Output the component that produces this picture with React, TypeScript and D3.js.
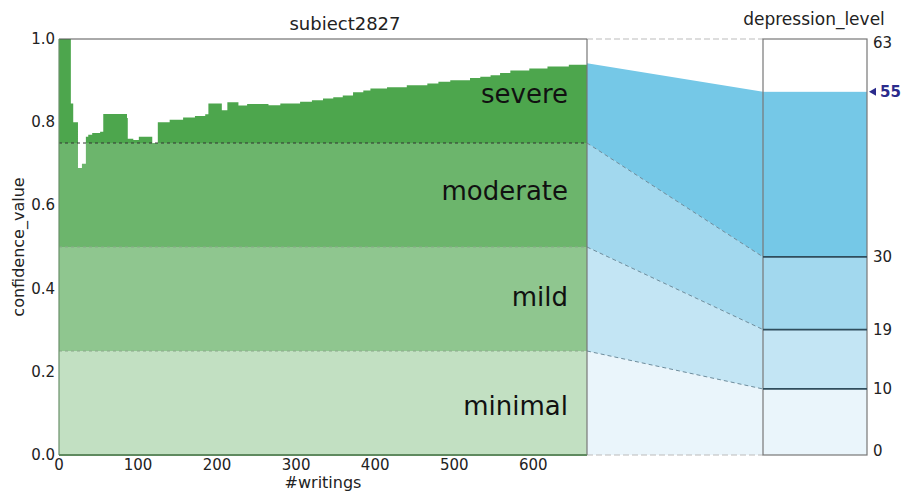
import React, { useEffect, useRef } from "react";
import * as d3 from "d3";

// confidence over the writings (step values)
const writings = [0, 15, 18, 24, 29, 34, 37, 42, 52, 56, 86, 87, 94, 101, 118, 125, 140, 157, 172, 185, 189, 206, 213, 227, 238, 265, 280, 305, 320, 334, 347, 359, 372, 385, 394, 415, 440, 466, 480, 495, 520, 533, 546, 558, 571, 595, 618, 645, 668];
const confidence = [1.0, 0.845, 0.8, 0.69, 0.7, 0.765, 0.77, 0.774, 0.777, 0.82, 0.81, 0.76, 0.757, 0.765, 0.75, 0.8, 0.806, 0.811, 0.815, 0.819, 0.845, 0.829, 0.848, 0.84, 0.844, 0.841, 0.845, 0.849, 0.853, 0.857, 0.86, 0.864, 0.872, 0.876, 0.881, 0.884, 0.889, 0.893, 0.897, 0.901, 0.906, 0.909, 0.913, 0.918, 0.924, 0.929, 0.934, 0.938, 0.942];

const levels = ["minimal", "mild", "moderate", "severe"];
const confBounds = [0, 0.25, 0.5, 0.75, 1.0];
const depressionBounds = [0, 10, 19, 30, 63];
const depressionScore = 55;

const yTicks = [0, 0.2, 0.4, 0.6, 0.8, 1.0];
const xTicks = [0, 100, 200, 300, 400, 500, 600];
const rightTicks = [0, 10, 19, 30, 63];

const greens = ["#c2e0c2", "#8fc68f", "#6cb56c", "#4da64d"];
const blues = ["#eaf5fb", "#c3e5f4", "#a2d8ee", "#75c8e7"];
const font = "'DejaVu Sans', sans-serif";

export default function App() {
	const ref = useRef<SVGSVGElement>(null);

	useEffect(() => {
		const svg = d3.select(ref.current);
		svg.selectAll("*").remove();

		const x = d3.scaleLinear().domain([0, 668]).range([59, 587]);
		const y = d3.scaleLinear().domain([0, 1]).range([455, 39]);
		const yr = d3.scaleLinear().domain([0, 63]).range([455, 39]);
		const bx0 = 763, bx1 = 867;

		const pts = writings.map((w, i) => [w, confidence[i]] as [number, number]);
		const area = d3.area<[number, number]>()
			.x((d) => x(d[0]))
			.y0(y(0))
			.y1((d) => y(d[1]))
			.curve(d3.curveStepAfter);

		svg.append("clipPath").attr("id", "under")
			.append("path").attr("d", area(pts));

		// bands under the confidence curve
		svg.append("g").attr("clip-path", "url(#under)")
			.selectAll("rect")
			.data(levels)
			.enter()
			.append("rect")
			.attr("x", x(0))
			.attr("width", x(668) - x(0))
			.attr("y", (d, i) => y(confBounds[i + 1]))
			.attr("height", (d, i) => y(confBounds[i]) - y(confBounds[i + 1]))
			.attr("fill", (d, i) => greens[i]);

		// band separators
		[0.25, 0.5, 0.75].forEach((b, i) => {
			svg.append("line")
				.attr("x1", x(0)).attr("x2", x(668))
				.attr("y1", y(b)).attr("y2", y(b))
				.attr("stroke", i === 2 ? "#333" : "#8aa88a")
				.attr("stroke-width", 1)
				.attr("stroke-dasharray", "3,3");
		});

		// connecting bands
		const last = confidence[confidence.length - 1];
		const link = levels.map((l, i) => {
			const lt = i === 3 ? last : confBounds[i + 1];
			const rt = i === 3 ? depressionScore : depressionBounds[i + 1];
			return [
				[587, y(lt)], [bx0, yr(rt)], [bx0, yr(depressionBounds[i])], [587, y(confBounds[i])]
			] as [number, number][];
		});
		svg.append("g").selectAll("path")
			.data(link)
			.enter()
			.append("path")
			.attr("d", (d) => d3.line()(d) + "Z")
			.attr("fill", (d, i) => blues[i]);

		[1, 2, 3].forEach((i) => {
			svg.append("line")
				.attr("x1", 587).attr("y1", y(confBounds[i]))
				.attr("x2", bx0).attr("y2", yr(depressionBounds[i]))
				.attr("stroke", "#6d8c9c")
				.attr("stroke-width", 1)
				.attr("stroke-dasharray", "4,3");
		});
		[[1, 63], [0, 0]].forEach(([c, v]) => {
			svg.append("line")
				.attr("x1", 587).attr("y1", y(c))
				.attr("x2", bx0).attr("y2", yr(v))
				.attr("stroke", "#bbb")
				.attr("stroke-width", 1.2)
				.attr("stroke-dasharray", "6,3");
		});

		// depression level box
		svg.append("g").selectAll("rect")
			.data(levels)
			.enter()
			.append("rect")
			.attr("x", bx0)
			.attr("width", bx1 - bx0)
			.attr("y", (d, i) => yr(i === 3 ? depressionScore : depressionBounds[i + 1]))
			.attr("height", (d, i) => yr(depressionBounds[i]) - yr(i === 3 ? depressionScore : depressionBounds[i + 1]))
			.attr("fill", (d, i) => blues[i]);
		svg.append("rect")
			.attr("x", bx0).attr("y", yr(63))
			.attr("width", bx1 - bx0).attr("height", yr(0) - yr(63))
			.attr("fill", "none").attr("stroke", "#777").attr("stroke-width", 1.2);
		[10, 19, 30].forEach((v) => {
			svg.append("line")
				.attr("x1", bx0).attr("x2", bx1)
				.attr("y1", yr(v)).attr("y2", yr(v))
				.attr("stroke", "#2f4d5c").attr("stroke-width", 1.8);
		});

		// left plot frame
		svg.append("line").attr("x1", x(0)).attr("x2", 587).attr("y1", y(1)).attr("y2", y(1))
			.attr("stroke", "#555").attr("stroke-width", 1);
		svg.append("line").attr("x1", 587).attr("x2", 587).attr("y1", y(1)).attr("y2", y(0))
			.attr("stroke", "#777").attr("stroke-width", 1.2);
		svg.append("line").attr("x1", x(0)).attr("x2", x(0)).attr("y1", y(1)).attr("y2", y(0))
			.attr("stroke", "#6a8f6a").attr("stroke-width", 1.2);
		svg.append("line").attr("x1", x(0)).attr("x2", 587).attr("y1", y(0)).attr("y2", y(0))
			.attr("stroke", "#5f8a5f").attr("stroke-width", 2);

		// tick labels
		svg.append("g").selectAll("text")
			.data(yTicks)
			.enter()
			.append("text")
			.attr("x", 55)
			.attr("y", (d) => y(d) + 5)
			.attr("text-anchor", "end")
			.style("font", `15px ${font}`)
			.attr("fill", "#222")
			.text((d) => d.toFixed(1));
		svg.append("g").selectAll("text")
			.data(xTicks)
			.enter()
			.append("text")
			.attr("x", (d) => x(d))
			.attr("y", 470)
			.attr("text-anchor", "middle")
			.style("font", `15px ${font}`)
			.attr("fill", "#222")
			.text((d) => d);
		svg.append("g").selectAll("text")
			.data(rightTicks)
			.enter()
			.append("text")
			.attr("x", 873)
			.attr("y", (d) => (d === 63 ? yr(d) + 9 : d === 0 ? yr(d) + 1 : yr(d) + 5))
			.style("font", `15px ${font}`)
			.attr("fill", "#222")
			.text((d) => d);

		// score marker
		svg.append("path")
			.attr("d", d3.line()([[869, yr(depressionScore)], [876, yr(depressionScore) - 4], [876, yr(depressionScore) + 4]]) + "Z")
			.attr("fill", "#2b2b8c");
		svg.append("text")
			.attr("x", 880).attr("y", yr(depressionScore) + 5.5)
			.style("font", `bold 15px ${font}`)
			.attr("fill", "#2b2b8c")
			.text(depressionScore);

		// level labels
		const labelY = [415, 306, 200, 103];
		svg.append("g").selectAll("text")
			.data(levels)
			.enter()
			.append("text")
			.attr("x", 568)
			.attr("y", (d, i) => labelY[i])
			.attr("text-anchor", "end")
			.style("font", `26px ${font}`)
			.attr("fill", "#111")
			.text((d) => d);

		// titles
		svg.append("text").attr("x", 345).attr("y", 30).attr("text-anchor", "middle")
			.style("font", `18px ${font}`).attr("fill", "#222").text("subiect2827");
		svg.append("text").attr("x", 814).attr("y", 25).attr("text-anchor", "middle")
			.style("font", `17px ${font}`).attr("fill", "#222").text("depression_level");
		svg.append("text").attr("x", 323).attr("y", 488).attr("text-anchor", "middle")
			.style("font", `16px ${font}`).attr("fill", "#222").text("#writings");
		svg.append("text")
			.attr("transform", `translate(24,${y(0.5)}) rotate(-90)`)
			.attr("text-anchor", "middle")
			.style("font", `16px ${font}`).attr("fill", "#222").text("confidence_value");
	}, []);

	return (
		<svg ref={ref} width={905} height={491}
			style={{ position: "absolute", left: 0, top: 0, background: "#fff" }} />
	);
}
